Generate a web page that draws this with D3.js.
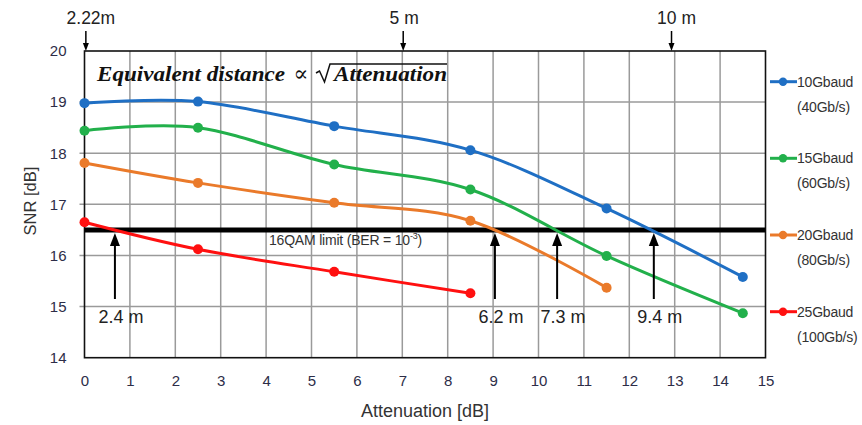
<!DOCTYPE html>
<html><head><meta charset="utf-8">
<script src="https://cdn.jsdelivr.net/npm/d3@7"></script>
<style>
html,body{margin:0;padding:0;background:#fff;}
svg{display:block;font-family:"Liberation Sans",Arial,sans-serif;}
</style></head>
<body><svg id="chart" width="862" height="425"></svg>
<script>
// ---- data ----
const attenuation = [0, 2.5, 5.5, 8.5, 11.5, 14.5];
const seriesNames = ["10Gbaud", "15Gbaud", "20Gbaud", "25Gbaud"];
const seriesRates = ["(40Gb/s)", "(60Gb/s)", "(80Gb/s)", "(100Gb/s)"];
const snr10 = [18.98, 19.01, 18.53, 18.06, 16.92, 15.58];
const snr15 = [18.44, 18.50, 17.78, 17.29, 15.99, 14.87];
const snr20 = [17.81, 17.42, 17.03, 16.68, 15.37];
const snr25 = [16.65, 16.12, 15.68, 15.26];
const seriesColors = ["#1f6fc4", "#22b04b", "#ea7a2a", "#ff1010"];
const xTicks = d3.range(0, 16, 1);
const yTicks = [14, 15, 16, 17, 18, 19, 20];
const limitSNR = 16.5;
const limitLabel = "16QAM limit (BER = 10";
const crossAtt = [0.67, 9.04, 10.41, 12.54];
const crossLabels = ["2.4 m", "6.2 m", "7.3 m", "9.4 m"];
const topAtt = [0.03, 7.02, 12.93];
const topLabels = ["2.22m", "5 m", "10 m"];

const svg = d3.select("#chart");
const x = d3.scaleLinear().domain([0, 15]).range([84.5, 765.5]);
const y = d3.scaleLinear().domain([14, 20]).range([357.7, 51]);
const tickColor = "#2d2d48";

// grid
const g = svg.append("g");
g.selectAll(".vg").data(xTicks.slice(1, -1)).enter().append("line")
  .attr("x1", d => x(d)).attr("x2", d => x(d)).attr("y1", y(20)).attr("y2", y(14))
  .attr("stroke", "#9a9a9a").attr("stroke-width", 1.5);
g.selectAll(".hg").data(yTicks.slice(1, -1)).enter().append("line")
  .attr("x1", x(0) - 5).attr("x2", x(15)).attr("y1", d => y(d)).attr("y2", d => y(d))
  .attr("stroke", "#9a9a9a").attr("stroke-width", 1.5);
g.append("rect").attr("x", x(0)).attr("y", y(20)).attr("width", x(15) - x(0)).attr("height", y(14) - y(20))
  .attr("fill", "none").attr("stroke", "#111").attr("stroke-width", 1.6);

// axes via d3 axis generators (labels only)
const xAxis = svg.append("g").attr("transform", `translate(0,${y(14)})`)
  .call(d3.axisBottom(x).tickValues(xTicks).tickSize(0).tickPadding(18).tickFormat(d3.format("d")));
xAxis.select(".domain").remove();
xAxis.selectAll("text").attr("font-size", 15).attr("fill", tickColor).attr("font-family", "Liberation Sans, Arial");
const yAxis = svg.append("g").attr("transform", `translate(${x(0)},0)`)
  .call(d3.axisLeft(y).tickValues(yTicks).tickSize(0).tickPadding(18).tickFormat(d3.format("d")));
yAxis.select(".domain").remove();
yAxis.selectAll("text").attr("font-size", 15).attr("fill", tickColor).attr("font-family", "Liberation Sans, Arial");

svg.append("text").attr("x", 425).attr("y", 417).attr("text-anchor", "middle")
  .attr("font-size", 18).attr("fill", "#333").text("Attenuation [dB]");
svg.append("text").attr("transform", "translate(36,201) rotate(-90)").attr("text-anchor", "middle")
  .attr("font-size", 16.5).attr("fill", "#333").text("SNR [dB]");

// equation annotation
const eqFont = "'Liberation Serif','DejaVu Serif',serif";
const eq = svg.append("g").attr("font-family", eqFont).attr("font-weight", "bold").attr("font-style", "italic")
  .attr("font-size", 20).attr("fill", "#111");
eq.append("text").attr("x", 97).attr("y", 81).attr("textLength", 188).attr("lengthAdjust", "spacingAndGlyphs").text("Equivalent distance");
eq.append("text").attr("x", 301).attr("y", 81).attr("text-anchor", "middle").attr("font-style", "normal").attr("font-weight", "normal").attr("font-size", 22).text("\u221D");
eq.append("text").attr("x", 334).attr("y", 81).attr("textLength", 113).attr("lengthAdjust", "spacingAndGlyphs").text("Attenuation");
eq.append("path").attr("d", "M316,73 L319.5,71 L324.5,82 L330,64 L447,64")
  .attr("fill", "none").attr("stroke", "#111").attr("stroke-width", 1.5).attr("stroke-linejoin", "miter");

// limit line
svg.append("line").attr("x1", x(0)).attr("x2", x(15)).attr("y1", y(limitSNR)).attr("y2", y(limitSNR))
  .attr("stroke", "#000").attr("stroke-width", 5);
const lt = svg.append("text").attr("x", 269).attr("y", 245).attr("font-size", 14).attr("fill", "#333").attr("letter-spacing", -0.2).text(limitLabel);
lt.append("tspan").attr("font-size", 9).attr("dy", -6).text("-3");
lt.append("tspan").attr("dy", 6).text(")");

// series
const allSeries = [snr10, snr15, snr20, snr25];
const line = d3.line().x(d => x(d[0])).y(d => y(d[1])).curve(d3.curveCardinal.tension(0));
allSeries.forEach((vals, i) => {
  const pts = vals.map((v, j) => [attenuation[j], v]);
  svg.append("path").datum(pts).attr("d", line).attr("fill", "none")
    .attr("stroke", seriesColors[i]).attr("stroke-width", 3);
  svg.selectAll(".m" + i).data(pts).enter().append("circle")
    .attr("cx", d => x(d[0])).attr("cy", d => y(d[1])).attr("r", 5).attr("fill", seriesColors[i]);
});

// crossing arrows
function upArrow(px, yTop, yBot, headW, headH, sw) {
  svg.append("line").attr("x1", px).attr("x2", px).attr("y1", yTop + headH - 1).attr("y2", yBot)
    .attr("stroke", "#000").attr("stroke-width", sw);
  svg.append("path").attr("d", `M${px},${yTop} L${px - headW / 2},${yTop + headH} L${px + headW / 2},${yTop + headH} Z`).attr("fill", "#000");
}
function downArrow(px, yTop, yBot, headW, headH, sw) {
  svg.append("line").attr("x1", px).attr("x2", px).attr("y1", yTop).attr("y2", yBot - headH + 1)
    .attr("stroke", "#000").attr("stroke-width", sw);
  svg.append("path").attr("d", `M${px},${yBot} L${px - headW / 2},${yBot - headH} L${px + headW / 2},${yBot - headH} Z`).attr("fill", "#000");
}
crossAtt.forEach((a, i) => {
  upArrow(x(a), y(limitSNR) + 3, 299, 10, 13, 2);
  svg.append("text").attr("x", x(a) + 6).attr("y", 323).attr("text-anchor", "middle")
    .attr("font-size", 18).attr("fill", "#222").text(crossLabels[i]);
});
topAtt.forEach((a, i) => {
  downArrow(x(a), 31, y(20), 6, 8, 1.5);
  svg.append("text").attr("x", x(a) + (i === 0 ? 5 : i === 1 ? 1 : 5)).attr("y", 24).attr("text-anchor", "middle")
    .attr("font-size", 17.5).attr("fill", "#222").text(topLabels[i]);
});

// legend
const legY = [81.7, 158.3, 235, 311.7];
seriesNames.forEach((n, i) => {
  const lg = svg.append("g");
  lg.append("line").attr("x1", 770).attr("x2", 797).attr("y1", legY[i]).attr("y2", legY[i])
    .attr("stroke", seriesColors[i]).attr("stroke-width", 3);
  lg.append("circle").attr("cx", 783).attr("cy", legY[i]).attr("r", 4.2).attr("fill", seriesColors[i]);
  lg.append("text").attr("x", 797).attr("y", legY[i] + 5).attr("font-size", 14).attr("fill", "#333")
    .attr("letter-spacing", -0.2).text(n);
  lg.append("text").attr("x", 797).attr("y", legY[i] + 30).attr("font-size", 14).attr("fill", "#333")
    .attr("letter-spacing", -0.2).text(seriesRates[i]);
});
</script></body></html>
